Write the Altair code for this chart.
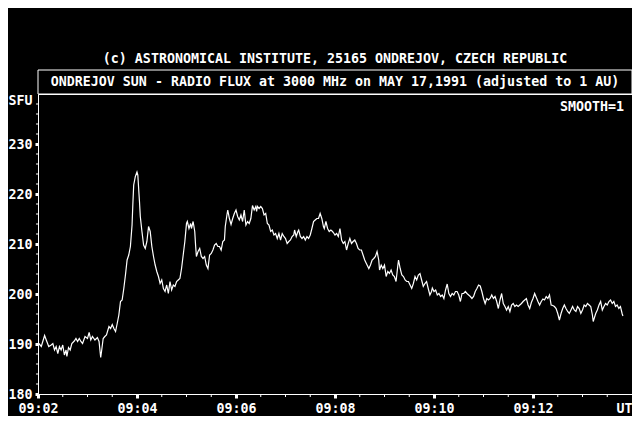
import altair as alt
import pandas as pd

FONT = "DejaVu Sans Mono"
FS = 13.3

# ---- data: seconds after 09:02:00 UT and flux in SFU ----
t_pre = [1, 4, 8, 10, 13, 16, 18, 20, 22, 24, 26, 28, 30, 32, 34, 35, 37, 39, 41, 44, 46, 48, 50, 52, 54, 57, 60,
         62, 64, 66, 69, 72, 74, 76, 77, 79, 81, 83, 86, 88, 90, 92, 94, 96, 98, 100, 102, 104, 106, 108, 110,
         112, 114, 115, 116, 118, 120]
f_pre = [190.1, 189.5, 191.7, 190.8, 189.5, 189.8, 190.1, 188.8, 189.5, 188.1, 189.5, 188.8, 189.8, 187.8, 188.8,
         187.5, 189.3, 188.8, 190.1, 190.6, 191.1, 190.5, 191.1, 190.5, 190.1, 191.5, 191.1, 192.3, 190.8, 191.5,
         190.8, 191.3, 190.5, 187.3, 188.5, 191.1, 191.5, 191.8, 193.5, 193.1, 193.9, 193.1, 192.5, 194.1, 195.8,
         198.5, 198.8, 201.1, 203.8, 206.8, 207.8, 209.5, 213.8, 218.1, 221.8, 223.5, 224.4]

t_burst = [121, 122, 123, 124, 126, 128, 130, 132, 134, 136, 138, 140, 142, 144, 146, 148, 150, 152, 154, 156, 158,
           160, 162, 164, 166, 168, 170, 172, 174, 176, 178, 180, 181, 183, 185, 186, 188, 190, 191, 192, 194, 196,
           198, 200, 202, 204, 206, 208, 210, 212, 214, 216, 218, 220, 222, 224, 226, 227, 229, 230, 232, 234, 236]
f_burst = [223.8, 221.1, 218.5, 215.5, 212.5, 209.8, 209.1, 210.5, 213.5, 212.5, 209.5, 207.5, 205.8, 204.5, 203.5,
           202.1, 202.8, 201.1, 200.5, 201.8, 200.1, 202.5, 200.8, 201.8, 201.5, 202.5, 202.8, 203.1, 205.1, 207.8,
           210.5, 214.1, 214.5, 213.1, 214.1, 213.1, 214.5, 212.5, 209.8, 207.5, 208.5, 209.1, 207.5, 207.1, 207.5,
           205.8, 205.1, 207.8, 208.1, 208.8, 209.8, 210.1, 209.5, 209.5, 208.8, 210.5, 210.8, 213.5, 215.8, 216.8,
           215.1, 213.9, 215.1]

t_plateau = [238, 240, 242, 244, 246, 248, 250, 252, 254, 256, 258, 260, 262, 264, 265, 266, 268, 270, 272, 274,
             276, 278, 280, 282, 284, 286, 288, 290, 292, 294, 296, 298, 300, 302, 304, 306, 308, 310, 311, 313,
             315, 316, 318, 320, 322, 324, 326, 328, 330, 332, 334, 336, 338, 340, 342, 344, 346, 347, 349, 351,
             353, 355, 357]
f_plateau = [216.1, 216.8, 215.5, 214.8, 215.8, 214.5, 216.8, 213.8, 214.5, 214.1, 215.1, 217.7, 216.8, 217.5,
             216.5, 217.5, 217.1, 217.5, 217.1, 215.8, 216.1, 214.1, 213.8, 212.5, 212.8, 211.8, 212.1, 211.1,
             212.1, 210.8, 212.1, 211.5, 211.1, 210.1, 210.5, 210.8, 211.5, 211.8, 212.8, 211.5, 212.5, 212.8,
             211.5, 211.1, 211.5, 210.8, 211.5, 211.1, 211.8, 213.1, 214.5, 214.8, 215.1, 215.1, 216.1, 215.1,
             213.5, 213.1, 214.5, 213.1, 212.5, 212.8, 212.5]

t_decay = [358, 360, 362, 364, 366, 368, 370, 372, 374, 376, 378, 380, 382, 384, 386, 388, 390, 392, 394, 396, 398,
           401, 403, 405, 407, 409, 411, 413, 414, 416, 418, 420, 422, 424, 426, 428, 430, 432, 434, 436, 437, 439,
           441, 443, 445, 447, 449, 451, 453, 455, 457, 459, 461, 463, 465, 467, 469, 471, 473, 475, 477]
f_decay = [212.3, 211.8, 212.1, 211.5, 213.1, 210.8, 210.1, 210.5, 208.8, 210.1, 211.1, 210.1, 210.5, 210.8, 210.1,
           209.1, 208.8, 208.8, 207.8, 206.8, 206.1, 205.1, 205.8, 206.8, 207.1, 207.5, 208.5, 206.8, 204.8, 205.8,
           205.1, 205.8, 203.5, 204.5, 204.1, 204.8, 203.8, 203.5, 202.5, 205.5, 206.8, 205.1, 203.8, 203.5, 202.8,
           202.5, 202.5, 201.8, 201.1, 202.1, 203.5, 202.8, 203.8, 204.1, 202.8, 201.5, 202.1, 202.5, 201.1, 199.8,
           200.5]

t_tail1 = [478, 480, 482, 484, 486, 488, 490, 492, 494, 496, 498, 500, 502, 504, 506, 508, 510, 512, 514, 516, 518,
           520, 522, 524, 526, 528, 530, 532, 534, 536, 538, 540, 542, 544, 546, 548, 550, 552, 554, 556, 558, 560,
           562, 564, 566, 568, 570, 572, 574, 576, 578, 580, 582, 584, 586, 588, 590, 592, 594, 596]
f_tail1 = [201.2, 200.5, 200.8, 199.8, 200.1, 199.5, 199.8, 199.1, 200.8, 202.0, 200.1, 199.5, 200.1, 199.8, 200.5,
           200.5, 199.8, 198.5, 200.1, 200.1, 200.5, 200.1, 199.8, 199.5, 199.1, 199.5, 200.5, 201.1, 201.8, 201.6,
           200.5, 199.1, 198.1, 199.1, 198.8, 199.1, 199.8, 199.1, 199.5, 198.5, 197.1, 198.8, 200.1, 198.1, 197.5,
           196.8, 197.5, 196.5, 197.8, 198.1, 197.5, 197.8, 197.5, 197.8, 198.1, 198.5, 198.8, 199.1, 197.8, 197.1]

t_tail2 = [598, 600, 602, 604, 606, 608, 610, 612, 614, 616, 618, 620, 622, 624, 626, 628, 630, 632, 634, 636, 638,
           640, 642, 644, 646, 648, 650, 652, 654, 656, 658, 660, 662, 664, 666, 668, 670, 672, 673, 676, 678, 680,
           682, 684, 686, 688, 690, 692, 694, 696, 698, 700, 702, 704, 706, 708, 709]
f_tail2 = [198.3, 199.1, 200.1, 199.3, 198.5, 197.8, 198.5, 199.0, 198.8, 199.5, 199.1, 199.8, 197.8, 197.7, 197.5,
           197.1, 196.1, 194.8, 196.1, 197.1, 197.8, 197.1, 196.5, 196.1, 196.8, 197.5, 196.8, 196.5, 197.5, 197.1,
           196.1, 196.8, 197.8, 197.5, 198.1, 197.8, 197.5, 195.8, 194.5, 196.1, 196.8, 197.8, 198.5, 196.8, 197.5,
           198.1, 197.8, 198.5, 198.8, 198.1, 198.5, 197.5, 197.8, 197.1, 197.5, 196.1, 195.6]

# axis ticks
x_major = [0, 120, 240, 360, 480, 600]
x_minor = [30, 60, 90, 150, 180, 210, 270, 300, 330, 390, 420, 450, 510, 540, 570, 630, 660, 690]
y_major = [180, 190, 200, 210, 220, 230]
y_minor = [v for v in range(182, 240, 2) if v % 10 != 0]

title_top = "(c) ASTRONOMICAL INSTITUTE, 25165 ONDREJOV, CZECH REPUBLIC"
title_box = "ONDREJOV SUN - RADIO FLUX at 3000 MHz on MAY 17,1991 (adjusted to 1 AU)"
smooth_label = "SMOOTH=1"

W, H = 594, 300

df = pd.DataFrame({
    "t": t_pre + t_burst + t_plateau + t_decay + t_tail1 + t_tail2,
    "sfu": f_pre + f_burst + f_plateau + f_decay + f_tail1 + f_tail2,
})

x_scale = alt.Scale(domain=[0, 720], nice=False, zero=False)
y_scale = alt.Scale(domain=[180, 240], nice=False, zero=False)

x_axis = alt.Axis(
    values=x_major,
    labelExpr="'09:' + ((datum.value / 60 + 2) < 10 ? '0' : '') + (datum.value / 60 + 2)",
    tickSize=4, tickWidth=3, tickColor="white", domain=False, grid=False,
    labelColor="white", labelFont=FONT, labelFontSize=FS, labelFontWeight="bold",
    labelPadding=3, labelOverlap=False, labelFlush=False,
    title="UT", titleColor="white", titleFont=FONT, titleFontSize=FS, titleFontWeight="bold",
    titleX=W, titleY=7, titleAlign="right", titleBaseline="top", titleAngle=0,
)
y_axis = alt.Axis(
    values=y_major,
    tickSize=3, tickWidth=3, tickColor="white", domain=False, grid=False,
    labelColor="white", labelFont=FONT, labelFontSize=FS, labelFontWeight="bold",
    labelPadding=3, labelOverlap=False, labelFlush=False,
    title="SFU", titleColor="white", titleFont=FONT, titleFontSize=FS, titleFontWeight="bold",
    titleX=-6, titleY=6, titleAlign="right", titleBaseline="middle", titleAngle=0,
)

line = alt.Chart(df).mark_line(color="white", strokeWidth=1.2, interpolate="linear").encode(
    x=alt.X("t:Q", scale=x_scale, axis=x_axis),
    y=alt.Y("sfu:Q", scale=y_scale, axis=y_axis),
)

ymin_df = pd.DataFrame({"v": y_minor})
ymin = alt.Chart(ymin_df).mark_rule(color="white", strokeWidth=1).encode(
    y=alt.Y("v:Q", scale=y_scale, axis=y_axis),
    x=alt.value(-2), x2=alt.value(0),
)
xmin_df = pd.DataFrame({"v": x_minor})
xmin = alt.Chart(xmin_df).mark_rule(color="white", strokeWidth=1).encode(
    x=alt.X("v:Q", scale=x_scale, axis=x_axis),
    y=alt.value(H), y2=alt.value(H + 3),
)

lab = pd.DataFrame({"top": [title_top], "box": [title_box], "smooth": [smooth_label]})
box = alt.Chart(lab).mark_rect(fill="black", stroke="white", strokeWidth=1).encode(
    x=alt.value(0), x2=alt.value(W), y=alt.value(-24), y2=alt.value(0)
)
txt_kw = dict(color="white", font=FONT, fontSize=FS, fontWeight="bold", baseline="middle")
t1 = alt.Chart(lab).mark_text(align="center", **txt_kw).encode(
    text="top:N", x=alt.value(W / 2), y=alt.value(-35))
t2 = alt.Chart(lab).mark_text(align="center", **txt_kw).encode(
    text="box:N", x=alt.value(W / 2), y=alt.value(-12))
t3 = alt.Chart(lab).mark_text(align="right", **txt_kw).encode(
    text="smooth:N", x=alt.value(W - 8), y=alt.value(13))

chart = alt.layer(line, ymin, xmin, box, t1, t2, t3).properties(
    width=W, height=H,
    autosize="none",
    padding={"left": 30, "top": 86, "right": 0, "bottom": 22},
).configure(
    background="black",
).configure_view(
    stroke="white", strokeWidth=1, fill="black",
)

chart.save("out.html", embed_options={"renderer": "svg", "actions": False})
